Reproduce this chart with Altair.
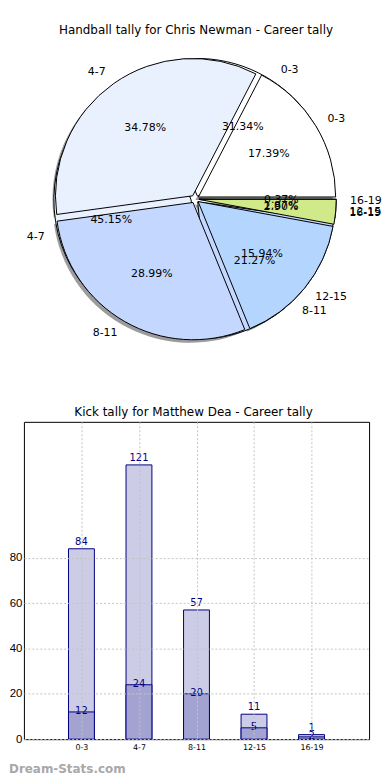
import altair as alt
import pandas as pd

# ---------------- data ----------------
categories = ["0-3", "4-7", "8-11", "12-15", "16-19"]

# Pie: two overlaid pies, as drawn in the original
pie_a_values = [84, 121, 57, 5, 1]
pie_b_values = [12, 24, 20, 11, 2]
slice_colors = ["#ffffff", "#eaf1fe", "#c4d7fe", "#b4d5fe", "#d0ea89"]

# Bars: Kick tally
kick_total = [84, 121, 57, 11, 2]
kick_part = [12, 24, 20, 5, 1]
kick_total_labels = ["84", "121", "57", "11", "1"]
kick_part_labels = ["12", "24", "20", "5", "2"]
y_ticks = [0, 20, 40, 60, 80]

pie_title = "Handball tally for Chris Newman - Career tally"
bar_title = "Kick tally for Matthew Dea - Career tally"
watermark = "Dream-Stats.com"

FONT = "DejaVu Sans"

# ---------------- pie ----------------
rows = []
for series, vals in (("A", pie_a_values), ("B", pie_b_values)):
    for i, (c, v) in enumerate(zip(categories, vals)):
        rows.append({"series": series, "idx": i, "cat": c, "value": v, "color": slice_colors[i]})
pie_df = pd.DataFrame(rows)

PW, PH = 358, 300
CX, CY, R, D = 172, 151, 138, 4

pie_base = (
    alt.Chart(pie_df)
    .transform_joinaggregate(total="sum(value)", groupby=["series"])
    .transform_window(cum="sum(value)", sort=[alt.SortField("idx")], groupby=["series"], frame=[None, 0])
    .transform_calculate(s="(datum.cum - datum.value) / datum.total")
    .transform_calculate(e="datum.cum / datum.total")
    .transform_calculate(mid="PI * (datum.s + datum.e)")
    .transform_calculate(t0="PI / 2 - 2 * PI * datum.e")
    .transform_calculate(t1="PI / 2 - 2 * PI * datum.s")
    .transform_calculate(pct="format(100 * datum.value / datum.total, '.2f') + '%'")
    .transform_calculate(ax=f"{CX} + {D} * cos(datum.mid)")
    .transform_calculate(ay=f"{CY} - {D} * sin(datum.mid)")
    .transform_calculate(lx=f"datum.ax + 1.1 * {R} * cos(datum.mid)")
    .transform_calculate(ly=f"datum.ay - 1.1 * {R} * sin(datum.mid)")
    .transform_calculate(px=f"datum.ax + 0.6 * {R} * cos(datum.mid)")
    .transform_calculate(py=f"datum.ay - 0.6 * {R} * sin(datum.mid)")
    .transform_calculate(right="cos(datum.mid) >= 0")
)

arc_enc = dict(
    theta=alt.Theta("t0:Q", scale=None, stack=None),
    theta2=alt.Theta2("t1:Q"),
)

shadow = pie_base.transform_filter("datum.series == 'B'").transform_calculate(
    sx="datum.ax - 3", sy="datum.ay + 3"
).mark_arc(radius=R, fill="#3a3a3a", opacity=0.5, strokeWidth=0).encode(
    x=alt.X("sx:Q", scale=None), y=alt.Y("sy:Q", scale=None), **arc_enc
)

def wedges(series):
    return pie_base.transform_filter(f"datum.series == '{series}'").mark_arc(
        radius=R, stroke="black", strokeWidth=1
    ).encode(
        x=alt.X("ax:Q", scale=None),
        y=alt.Y("ay:Q", scale=None),
        fill=alt.Fill("color:N", scale=None),
        **arc_enc,
    )

lab_right = pie_base.transform_filter("datum.right").mark_text(
    align="left", baseline="middle", font=FONT, fontSize=11, color="black"
).encode(x=alt.X("lx:Q", scale=None), y=alt.Y("ly:Q", scale=None), text="cat:N")
lab_left = pie_base.transform_filter("!datum.right").mark_text(
    align="right", baseline="middle", font=FONT, fontSize=11, color="black"
).encode(x=alt.X("lx:Q", scale=None), y=alt.Y("ly:Q", scale=None), text="cat:N")
pct_text = pie_base.mark_text(
    align="center", baseline="middle", font=FONT, fontSize=11, color="black"
).encode(x=alt.X("px:Q", scale=None), y=alt.Y("py:Q", scale=None), text="pct:N")

pie = alt.layer(shadow, wedges("A"), wedges("B"), lab_right, lab_left, pct_text).properties(
    width=PW, height=PH,
    title=alt.TitleParams(pie_title, font=FONT, fontSize=12, fontWeight="normal", color="black",
                          offset=12, anchor="middle", dx=-6),
    view=alt.ViewBackground(stroke=None),
)

# ---------------- bars ----------------
bar_df = pd.DataFrame({
    "pos": list(range(1, len(categories) + 1)),
    "cat": categories,
    "total": kick_total,
    "part": kick_part,
    "tlab": kick_total_labels,
    "plab": kick_part_labels,
})
BW = 0.45
label_expr = "[" + ",".join(["''"] + [f"'{c}'" for c in categories]) + "][datum.value]"

bar_base = alt.Chart(bar_df).transform_calculate(
    x0=f"datum.pos - {BW / 2}", x1=f"datum.pos + {BW / 2}"
)
xscale = alt.Scale(domain=[0, 6], nice=False, zero=False)
yscale = alt.Scale(domain=[0, 140], nice=False)

x_axis = alt.Axis(values=list(range(1, len(categories) + 1)), labelExpr=label_expr, grid=True,
                  gridDash=[2, 2], gridColor="#c4c4c4", ticks=False, domain=False, title=None,
                  labelFont=FONT, labelFontSize=8, labelColor="black", labelPadding=4, zindex=1)
y_axis = alt.Axis(values=y_ticks, grid=True, gridDash=[2, 2], gridColor="#c4c4c4", ticks=False,
                  domain=False, title=None, labelFont="Liberation Sans", labelFontSize=11.5,
                  labelColor="black", labelPadding=2, zindex=1)

bars_total = bar_base.mark_bar(fill="#ccccE6", stroke="#000080", strokeWidth=1).encode(
    x=alt.X("x0:Q", scale=xscale, axis=x_axis), x2="x1:Q",
    y=alt.Y("total:Q", scale=yscale, axis=y_axis), y2=alt.datum(0),
)
bars_part = bar_base.mark_bar(fill="#a3a3d1", stroke="#000080", strokeWidth=1).encode(
    x=alt.X("x0:Q", scale=xscale), x2="x1:Q",
    y=alt.Y("part:Q", scale=yscale), y2=alt.datum(0),
)
txt_total = bar_base.mark_text(color="#000080", font=FONT, fontSize=10, baseline="bottom", dy=-2).encode(
    x=alt.X("pos:Q", scale=xscale), y=alt.Y("total:Q", scale=yscale), text="tlab:N"
)
txt_part = bar_base.mark_text(color="#000080", font=FONT, fontSize=10, baseline="middle", dy=-1).encode(
    x=alt.X("pos:Q", scale=xscale), y=alt.Y("part:Q", scale=yscale), text="plab:N"
)
wm = alt.Chart(pd.DataFrame({"t": [watermark]})).mark_text(
    align="left", baseline="middle", font=FONT, fontSize=12, fontWeight="bold", color="#a8a8a8"
).encode(x=alt.value(-15), y=alt.value(349), text="t:N")

bars = alt.layer(bars_total, bars_part, txt_total, txt_part, wm).properties(
    width=347, height=319,
    title=alt.TitleParams(bar_title, font=FONT, fontSize=12, fontWeight="normal", color="black",
                          offset=3, anchor="middle", dx=-3),
    view=alt.ViewBackground(stroke="black", strokeWidth=1),
)

chart = alt.vconcat(pie, bars, spacing=58,
                    padding={"top": 14, "left": 0, "right": 0, "bottom": 0})

chart.save("out.html", embed_options={"renderer": "svg", "actions": False})
